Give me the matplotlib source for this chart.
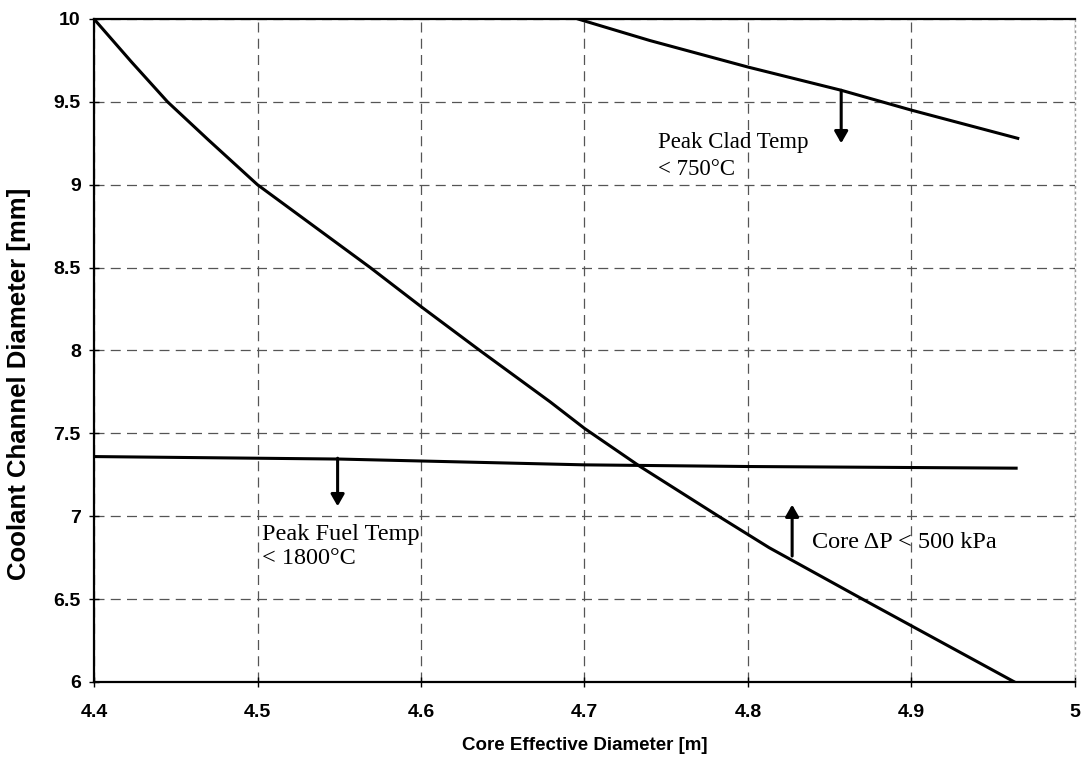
import matplotlib
matplotlib.use('Agg')
from matplotlib import pyplot as plt

# data
dp_x = [4.40, 4.423, 4.445, 4.47, 4.50, 4.569, 4.60, 4.636, 4.679, 4.70, 4.734, 4.782, 4.813, 4.87, 4.963]
dp_y = [10.0, 9.74, 9.50, 9.27, 9.00, 8.50, 8.265, 8.00, 7.69, 7.53, 7.30, 7.00, 6.81, 6.50, 6.00]

fuel_x = [4.40, 4.55, 4.70, 4.80, 4.964]
fuel_y = [7.36, 7.345, 7.31, 7.30, 7.29]

clad_x = [4.696, 4.74, 4.80, 4.857, 4.90, 4.965]
clad_y = [10.0, 9.87, 9.71, 9.57, 9.45, 9.28]

xticks = [4.4, 4.5, 4.6, 4.7, 4.8, 4.9, 5]
xtick_labels = ['4.4', '4.5', '4.6', '4.7', '4.8', '4.9', '5']
yticks = [6, 6.5, 7, 7.5, 8, 8.5, 9, 9.5, 10]
ytick_labels = ['6', '6.5', '7', '7.5', '8', '8.5', '9', '9.5', '10']

fig = plt.figure(figsize=(10.83, 7.72), dpi=100)
ax = fig.add_axes([0.0868, 0.1166, 0.9058, 0.8588])

ax.plot(dp_x, dp_y, color='black', lw=2.2, zorder=3)
ax.plot(fuel_x, fuel_y, color='black', lw=2.2, zorder=3)
ax.plot(clad_x, clad_y, color='black', lw=2.2, zorder=3)

# constraint arrows
arrow = dict(arrowstyle='-|>,head_width=0.4,head_length=0.7', color='black', lw=2.2, shrinkA=0, shrinkB=0)
ax.annotate('', xy=(4.857, 9.25), xytext=(4.857, 9.57), arrowprops=arrow)
ax.annotate('', xy=(4.549, 7.06), xytext=(4.549, 7.35), arrowprops=arrow)
ax.annotate('', xy=(4.827, 7.07), xytext=(4.827, 6.76), arrowprops=arrow)

serif = 'Liberation Serif'
ax.text(4.745, 9.222, 'Peak Clad Temp', family=serif, fontsize=16.5, va='baseline', ha='left')
ax.text(4.745, 9.060, '< 750\u00b0C', family=serif, fontsize=16.5, va='baseline', ha='left')
ax.text(4.503, 6.857, 'Peak Fuel Temp', family=serif, fontsize=17.5, va='baseline', ha='left')
ax.text(4.503, 6.712, '< 1800\u00b0C', family=serif, fontsize=17.5, va='baseline', ha='left')
ax.text(4.839, 6.81, 'Core \u0394P < 500 kPa', family=serif, fontsize=17.5, va='baseline', ha='left')

ax.set_xlim(4.4, 5)
ax.set_ylim(6, 10)
ax.set_xticks(xticks)
ax.set_xticklabels(xtick_labels)
ax.set_yticks(yticks)
ax.set_yticklabels(ytick_labels)

ax.grid(True, color='#555555', linestyle=(0, (8, 5)), lw=0.9)
ax.set_axisbelow(True)

for s in ['left', 'bottom', 'top']:
    ax.spines[s].set_linewidth(1.6)
ax.spines['right'].set_color('#999999')
ax.spines['right'].set_linestyle((0, (1, 3)))
ax.spines['right'].set_linewidth(1)

ax.tick_params(axis='both', direction='inout', length=7, width=1, labelsize=14, pad=6)
ax.tick_params(axis='x', pad=12)
for lab in ax.get_xticklabels() + ax.get_yticklabels():
    lab.set_family('Liberation Sans')
    lab.set_weight('bold')

ax.set_xlabel('Core Effective Diameter [m]', family='Liberation Sans', weight='bold', fontsize=13.5)
ax.xaxis.set_label_coords(0.5, -0.083)
ax.set_ylabel('Coolant Channel Diameter [mm]', family='Liberation Sans', weight='bold', fontsize=18.5)
ax.yaxis.set_label_coords(-0.064, 0.45)

fig.savefig('out.png', dpi=100)
